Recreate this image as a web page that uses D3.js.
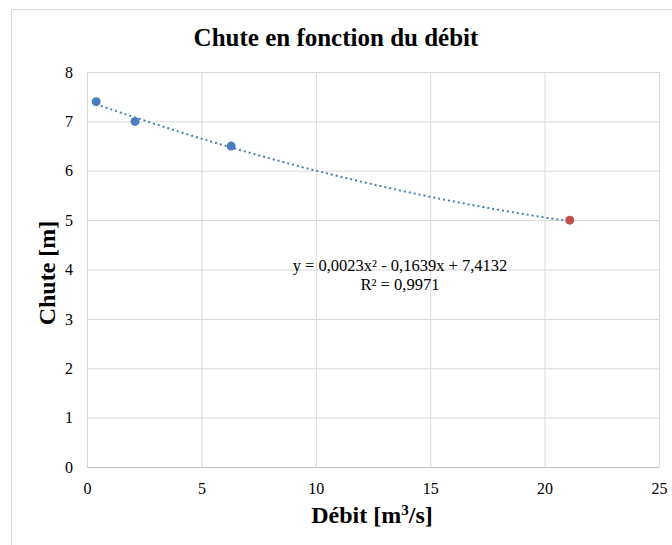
<!DOCTYPE html>
<html>
<head>
<meta charset="utf-8">
<script src="https://cdn.jsdelivr.net/npm/d3@7"></script>
<style>
  body { margin: 0; background: #fff; }
  text { font-family: "Liberation Serif", "Times New Roman", serif; fill: #000; }
</style>
</head>
<body>
<svg id="chart"></svg>
<script>
// measured points (débit m3/s, chute m)
var debit = [0.4, 2.1, 6.3];
var chute = [7.4, 7.0, 6.5];
// separate highlighted point
var debitRed = [21.1];
var chuteRed = [5.0];
// polynomial trend line coefficients (as shown on the chart)
var trendCoef = [7.4132, -0.1639, 0.0023];
var trendLabel = ['y = 0,0023x² - 0,1639x + 7,4132', 'R² = 0,9971'];
var xTicks = [0, 5, 10, 15, 20, 25];
var yTicks = [0, 1, 2, 3, 4, 5, 6, 7, 8];

var W = 672, H = 545;
var margin = { left: 87, right: 13, top: 72, bottom: 78 };
var SERIF = '"Liberation Serif", "Times New Roman", serif';

var svg = d3.select('#chart').attr('width', W).attr('height', H);

// outer frame
svg.append('rect')
  .attr('x', 11.5).attr('y', 9.5)
  .attr('width', W).attr('height', H)
  .attr('fill', 'none').attr('stroke', '#d9d9d9');

var x = d3.scaleLinear().domain([0, 25]).range([margin.left, W - margin.right]);
var y = d3.scaleLinear().domain([0, 8]).range([H - margin.bottom, margin.top]);

/**
 * grid
 */
svg.append('g')
  .attr('transform', `translate(0, ${ y(0) })`)
  .call(d3.axisBottom(x).tickValues(xTicks).tickSize(-(y(0) - y(8))).tickFormat(''))
  .call(g => g.select('.domain').remove())
  .call(g => g.selectAll('line').attr('stroke', '#d9d9d9'));

svg.append('g')
  .attr('transform', `translate(${ x(0) }, 0)`)
  .call(d3.axisLeft(y).tickValues(yTicks).tickSize(-(x(25) - x(0))).tickFormat(''))
  .call(g => g.select('.domain').remove())
  .call(g => g.selectAll('line').attr('stroke', '#d9d9d9'));

// axis lines
svg.append('line')
  .attr('x1', x(0)).attr('x2', x(25)).attr('y1', y(0) + 0.5).attr('y2', y(0) + 0.5)
  .attr('stroke', '#bfbfbf');
svg.append('line')
  .attr('x1', x(0) + 0.5).attr('x2', x(0) + 0.5).attr('y1', y(0)).attr('y2', y(8))
  .attr('stroke', '#d9d9d9');

/**
 * tick labels
 */
var xAx = svg.append('g')
  .attr('transform', `translate(0, ${ y(0) })`)
  .call(d3.axisBottom(x).tickValues(xTicks).tickSize(0).tickPadding(16))
  .attr('font-family', SERIF).attr('font-size', 16);
xAx.select('.domain').remove();
xAx.selectAll('text').style('font-size', '16px').style('font-family', SERIF);

var yAx = svg.append('g')
  .attr('transform', `translate(${ x(0) }, 0)`)
  .call(d3.axisLeft(y).tickValues(yTicks).tickSize(0).tickPadding(14))
  .attr('font-family', SERIF).attr('font-size', 16);
yAx.select('.domain').remove();
yAx.selectAll('text').style('font-size', '16px').style('font-family', SERIF);

/**
 * trend line
 */
var poly = v => trendCoef[0] + trendCoef[1] * v + trendCoef[2] * v * v;
var allX = debit.concat(debitRed);
var xs = d3.range(61).map(i => d3.min(allX) + (d3.max(allX) - d3.min(allX)) * i / 60);
svg.append('path')
  .datum(xs)
  .attr('fill', 'none')
  .attr('stroke', '#4a7ebb')
  .attr('stroke-width', 2)
  .attr('stroke-dasharray', '2,3')
  .attr('d', d3.line().x(d => x(d)).y(d => y(poly(d))));

/**
 * points
 */
svg.selectAll('circle.pt')
  .data(debit.map((d, i) => [d, chute[i]]))
  .enter().append('circle')
    .attr('class', 'pt')
    .attr('cx', d => x(d[0])).attr('cy', d => y(d[1]))
    .attr('r', 4.5)
    .attr('fill', '#4a7ebb');

svg.selectAll('circle.red')
  .data(debitRed.map((d, i) => [d, chuteRed[i]]))
  .enter().append('circle')
    .attr('class', 'red')
    .attr('cx', d => x(d[0])).attr('cy', d => y(d[1]))
    .attr('r', 4.5)
    .attr('fill', '#c0504d');

/**
 * labels
 */
svg.append('text')
  .attr('x', 400).attr('y', 271)
  .attr('text-anchor', 'middle')
  .style('font-size', '16.5px')
  .text(trendLabel[0]);
svg.append('text')
  .attr('x', 400).attr('y', 290)
  .attr('text-anchor', 'middle')
  .style('font-size', '16.5px')
  .text(trendLabel[1]);

svg.append('text')
  .attr('x', 336).attr('y', 46)
  .attr('text-anchor', 'middle')
  .style('font-size', '25px').style('font-weight', 'bold')
  .text('Chute en fonction du débit');

var xt = svg.append('text')
  .attr('x', 372).attr('y', 523)
  .attr('text-anchor', 'middle')
  .style('font-size', '24px').style('font-weight', 'bold');
xt.append('tspan').text('Débit [m');
xt.append('tspan').attr('dy', -8).style('font-size', '15px').text('3');
xt.append('tspan').attr('dy', 8).text('/s]');

svg.append('text')
  .attr('transform', 'translate(55, 273) rotate(-90)')
  .attr('text-anchor', 'middle')
  .style('font-size', '24px').style('font-weight', 'bold')
  .text('Chute [m]');
</script>
</body>
</html>
